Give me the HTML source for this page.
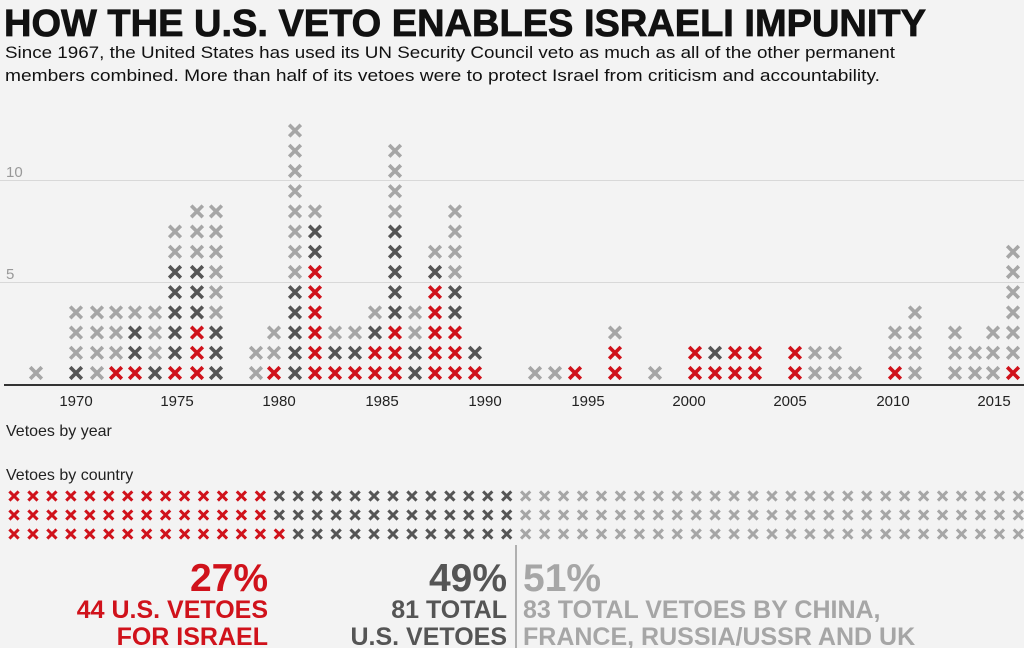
<!DOCTYPE html>
<html><head><meta charset="utf-8"><style>
body{margin:0;width:1024px;height:648px;background:#f3f3f3;overflow:hidden;font-family:"Liberation Sans",sans-serif}
svg{position:absolute;left:0;top:0}
</style></head><body>
<svg id="s" width="1024" height="648" viewBox="0 0 1024 648">
<text x="4" y="36" font-size="38" font-weight="900" fill="#111" stroke="#111" stroke-width="0.8" textLength="922" lengthAdjust="spacingAndGlyphs">HOW THE U.S. VETO ENABLES ISRAELI IMPUNITY</text>
<text x="5" y="58" font-size="17" fill="#111" textLength="890" lengthAdjust="spacingAndGlyphs">Since 1967, the United States has used its UN Security Council veto as much as all of the other permanent</text>
<text x="5" y="81" font-size="17" fill="#111" textLength="875" lengthAdjust="spacingAndGlyphs">members combined. More than half of its vetoes were to protect Israel from criticism and accountability.</text>
<line x1="0" y1="180.5" x2="1024" y2="180.5" stroke="#d8d8d8"/>
<line x1="0" y1="282.5" x2="1024" y2="282.5" stroke="#d8d8d8"/>
<text x="6" y="177" font-size="15" fill="#999">10</text>
<text x="6" y="279" font-size="15" fill="#999">5</text>
<line x1="4" y1="385" x2="1024" y2="385" stroke="#333" stroke-width="2"/>
<g font-size="15" fill="#222" text-anchor="middle">
<text x="76" y="406">1970</text><text x="177" y="406">1975</text><text x="279" y="406">1980</text><text x="382" y="406">1985</text><text x="485" y="406">1990</text><text x="588" y="406">1995</text><text x="689" y="406">2000</text><text x="790" y="406">2005</text><text x="893" y="406">2010</text><text x="994" y="406">2015</text>
</g>
<text x="6" y="436" font-size="16" fill="#222">Vetoes by year</text>
<text x="6" y="480" font-size="16" fill="#222">Vetoes by country</text>
<line x1="516" y1="545" x2="516" y2="648" stroke="#999" stroke-width="1.5"/>
<g font-weight="bold" text-anchor="end">
<text x="268" y="591" font-size="39" fill="#d0121b">27%</text>
<text x="268" y="618" font-size="25" fill="#d0121b">44 U.S. VETOES</text>
<text x="268" y="645" font-size="25" fill="#d0121b">FOR ISRAEL</text>
<text x="507" y="591" font-size="39" fill="#555">49%</text>
<text x="507" y="618" font-size="25" fill="#555">81 TOTAL</text>
<text x="507" y="645" font-size="25" fill="#555">U.S. VETOES</text>
</g>
<g font-weight="bold" fill="#a6a6a6">
<text x="523" y="591" font-size="39">51%</text>
<text x="523" y="618" font-size="25">83 TOTAL VETOES BY CHINA,</text>
<text x="523" y="645" font-size="25">FRANCE, RUSSIA/USSR AND UK</text>
</g>
<g id="g"></g>
</svg>
<script>
var C={R:"#d0121b",D:"#555",L:"#a6a6a6"};
var g=document.getElementById("g"),h="";
function X(x,y,r,w,c){h+='<path d="M'+(x-r)+' '+(y-r)+'L'+(x+r)+' '+(y+r)+'M'+(x+r)+' '+(y-r)+'L'+(x-r)+' '+(y+r)+'" stroke="'+c+'" stroke-width="'+w+'"/>';}
var cols=[[36,"L"],[76,"DLLL"],[97,"LLLL"],[116,"RLLL"],[135,"RDDL"],[155,"DLLL"],[175,"RDDDDDLL"],[197,"RRRDDDLLL"],[216,"DDDLLLLLL"],[256,"LL"],[274,"RLL"],[295,"DDDDDLLLLLLLL"],[315,"RRRRRRDDL"],[335,"RDL"],[355,"RDL"],[375,"RRDL"],[395,"RRRDDDDDLLLL"],[415,"DDLL"],[435,"RRRRRDL"],[455,"RRRDDLLLL"],[475,"RD"],[535,"L"],[555,"L"],[575,"R"],[615,"RRL"],[655,"L"],[695,"RR"],[715,"RD"],[735,"RR"],[755,"RR"],[795,"RR"],[815,"LL"],[835,"LL"],[855,"L"],[895,"RLL"],[915,"LLLL"],[955,"LLL"],[975,"LL"],[993,"LLL"],[1013,"RLLLLLL"]];
cols.forEach(function(c){for(var i=0;i<c[1].length;i++)X(c[0],373-20.2*i,5.8,3.6,C[c[1][i]]);});
var red=[14,14,15],ys=[496,515,534];
for(var r=0;r<3;r++){for(var k=0;k<54;k++){var c=k<red[r]?"R":(k<27?"D":"L");X(14+k*18.95,ys[r],4.6,3,C[c]);}}
g.innerHTML=h;
</script>
</body></html>
